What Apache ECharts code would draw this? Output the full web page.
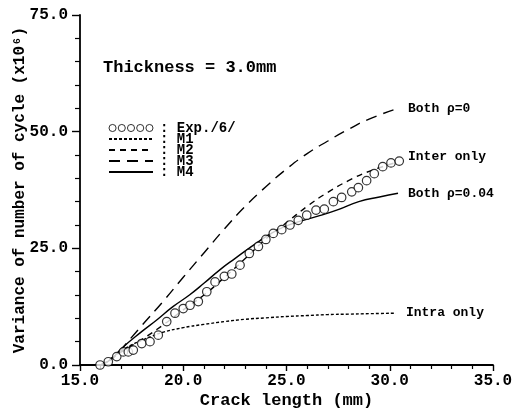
<!DOCTYPE html>
<html>
<head>
<meta charset="utf-8">
<script src="https://cdn.jsdelivr.net/npm/echarts@6/dist/echarts.min.js"></script>
<style>
html,body{margin:0;padding:0;background:#fff;}
#c{width:516px;height:414px;}
</style>
</head>
<body>
<div id="c"></div>
<script>
// ---- data ----
var xTicks = [15.0, 20.0, 25.0, 30.0, 35.0];
var yTicks = [0.0, 25.0, 50.0, 75.0];

var expX = [15.97,16.37,16.78,17.10,17.34,17.58,17.99,18.39,18.79,19.20,19.60,20.00,20.33,20.73,21.14,21.54,21.99,22.35,22.75,23.20,23.64,24.00,24.36,24.77,25.17,25.57,25.98,26.43,26.83,27.27,27.67,28.16,28.48,28.88,29.25,29.66,30.06,30.46];
var expY = [0.0,0.7,1.8,2.8,2.8,3.2,4.6,5.0,6.4,9.3,11.1,12.1,12.8,13.6,15.7,17.8,19.0,19.5,21.4,23.9,25.4,26.9,28.2,29.0,30.0,31.0,32.1,33.2,33.4,35.0,35.9,37.1,38.0,39.5,41.0,42.5,43.3,43.7];

var m1X = [16.0,16.5,17.0,17.5,18.0,18.5,19.0,20.0,21.0,22.0,23.0,24.0,25.0,26.0,27.0,28.0,29.0,30.3];
var m1Y = [0.0,1.2,3.0,4.3,5.3,6.2,7.0,8.0,8.7,9.3,9.8,10.1,10.4,10.6,10.8,10.9,11.0,11.1];

var m2X = [16.0,17.0,18.0,19.0,20.0,21.0,22.0,23.0,24.0,25.0,26.0,27.0,28.0,29.0,30.4];
var m2Y = [0.0,2.8,5.5,8.5,11.8,15.0,18.8,22.8,27.0,30.5,34.0,37.0,39.5,41.5,43.5];

var m3X = [16.9,18.0,19.0,20.0,21.0,22.0,23.0,24.0,25.0,26.0,27.0,28.0,29.0,30.4];
var m3Y = [2.8,8.5,13.5,18.8,24.0,29.2,34.0,38.2,42.0,45.3,48.0,50.5,52.7,55.0];

var m4X = [16.0,16.5,17.0,18.0,18.7,19.5,20.3,21.0,21.8,22.5,23.7,24.5,25.3,26.6,27.5,28.5,29.5,30.4];
var m4Y = [0.0,1.2,3.5,7.2,9.6,12.5,15.0,17.5,20.5,22.8,26.6,28.8,30.3,32.0,33.3,35.0,36.0,36.8];

var seriesNames = ['Exp./6/','M1','M2','M3','M4'];
var endLabels = {M1:'Intra only', M2:'Inter only', M3:'Both \u03c1=0', M4:'Both \u03c1=0.04'};

function pairs(xs, ys){ return xs.map(function(x,i){return [x, ys[i]];}); }

var FONT = '"Liberation Mono", "DejaVu Sans Mono", monospace';

var circlesIcon = 'path://M0,5a5,5 0 1,0 10,0a5,5 0 1,0 -10,0Z M13,5a5,5 0 1,0 10,0a5,5 0 1,0 -10,0Z M26,5a5,5 0 1,0 10,0a5,5 0 1,0 -10,0Z M39,5a5,5 0 1,0 10,0a5,5 0 1,0 -10,0Z M52,5a5,5 0 1,0 10,0a5,5 0 1,0 -10,0Z';

function lineSeries(name, xs, ys, dash, offset){
  return {
    name: name, type: 'line', data: pairs(xs, ys), smooth: true,
    symbol: 'none', silent: true, z: 2,
    lineStyle: {color: '#000', width: 1.4, type: dash},
    itemStyle: {color: '#000'},
    endLabel: {show: true, formatter: endLabels[name], color: '#000', fontFamily: FONT,
      fontWeight: 'bold', fontSize: 13, distance: 10, offset: offset || [0,0]}
  };
}

var lineLegendItem = function(n){ return {name: n, itemStyle: {opacity: 0}}; };

var chart = echarts.init(document.getElementById('c'), null, {renderer: 'canvas'});
chart.setOption({
  animation: false,
  backgroundColor: '#fff',
  title: {
    text: 'Thickness = 3.0mm', left: 98, top: 54,
    textStyle: {fontFamily: FONT, fontWeight: 'bold', fontSize: 17, color: '#000'}
  },
  legend: {
    orient: 'vertical', left: 103, top: 116, itemGap: -3, itemWidth: 44, itemHeight: 8,
    selectedMode: false,
    formatter: function(n){ return ': ' + n; },
    textStyle: {fontFamily: FONT, fontWeight: 'bold', fontSize: 14, lineHeight: 14, color: '#000', padding: [0,0,0,2]},
    data: [
      {name: seriesNames[0], icon: circlesIcon, itemStyle: {color: '#fff', borderColor: '#000', borderWidth: 1}},
      lineLegendItem(seriesNames[1]), lineLegendItem(seriesNames[2]),
      lineLegendItem(seriesNames[3]), lineLegendItem(seriesNames[4])
    ]
  },
  grid: {left: 80, right: 23, top: 15, bottom: 49, containLabel: false, outerBoundsMode: 'none'},
  xAxis: {
    type: 'value', min: xTicks[0], max: xTicks[xTicks.length-1], interval: 5,
    name: 'Crack length (mm)', nameLocation: 'middle', nameGap: 27, nameMoveOverlap: false,
    nameTextStyle: {fontFamily: FONT, fontWeight: 'bold', fontSize: 17, color: '#000'},
    axisLine: {show: true, lineStyle: {color: '#000', width: 1.8}},
    axisTick: {show: true, length: 6, lineStyle: {color: '#000', width: 1.4}},
    minorTick: {show: true, splitNumber: 5, length: 4, lineStyle: {color: '#000', width: 1.2}},
    splitLine: {show: false},
    axisLabel: {fontFamily: FONT, fontWeight: 'bold', fontSize: 16, color: '#000', margin: 8,
      formatter: function(v){ return v.toFixed(1); }}
  },
  yAxis: {
    type: 'value', min: yTicks[0], max: yTicks[yTicks.length-1], interval: 25,
    name: 'Variance of number of cycle (x10\u2076)', nameLocation: 'middle', nameGap: 52, nameRotate: 90,
    nameMoveOverlap: false,
    nameTextStyle: {fontFamily: FONT, fontWeight: 'bold', fontSize: 16, color: '#000'},
    axisLine: {show: true, lineStyle: {color: '#000', width: 1.8}},
    axisTick: {show: true, length: 8, lineStyle: {color: '#000', width: 1.4}},
    minorTick: {show: true, splitNumber: 5, length: 5, lineStyle: {color: '#000', width: 1.2}},
    splitLine: {show: false},
    axisLabel: {fontFamily: FONT, fontWeight: 'bold', fontSize: 16, color: '#000', margin: 12,
      formatter: function(v){ return v.toFixed(1); }}
  },
  series: [
    {
      name: seriesNames[0], type: 'scatter', data: pairs(expX, expY), symbol: 'circle', symbolSize: 8.5,
      itemStyle: {color: '#fff', borderColor: '#000', borderWidth: 1.2}, z: 3, silent: true
    },
    lineSeries('M1', m1X, m1Y, [3,2]),
    lineSeries('M2', m2X, m2Y, [6,5], [0,-5]),
    lineSeries('M3', m3X, m3Y, [11,7]),
    lineSeries('M4', m4X, m4Y, 'solid')
  ]
});
</script>
</body>
</html>
